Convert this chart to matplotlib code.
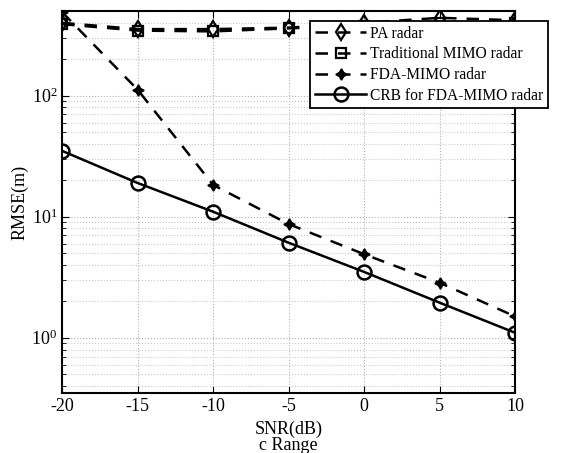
import matplotlib
matplotlib.use("Agg")
import matplotlib.pyplot as plt
from matplotlib.ticker import LogLocator, NullFormatter

plt.rcParams['font.family'] = ['Liberation Serif', 'DejaVu Serif']
plt.rcParams['mathtext.fontset'] = 'custom'
plt.rcParams['mathtext.rm'] = 'Liberation Serif'
plt.rcParams['mathtext.it'] = 'Liberation Serif:italic'
plt.rcParams['axes.unicode_minus'] = False

snr = [-20, -15, -10, -5, 0, 5, 10]
pa_radar = [400, 355, 355, 365, 400, 440, 420]
trad_mimo = [390, 345, 340, 360, 380, 400, 400]
fda_mimo = [490, 112, 18.3, 8.7, 4.9, 2.85, 1.5]
crb_fda = [35, 19, 11, 6.1, 3.5, 1.95, 1.1]

fig = plt.figure(figsize=(5.65, 4.53), dpi=100)
ax = fig.add_axes([0.110, 0.1325, 0.8018, 0.843])

lw = 1.8
ax.semilogy(snr, pa_radar, '--', color='black', lw=lw, marker='d', ms=8,
            mfc='none', mew=1.6, dashes=(5, 4), label='PA radar')
ax.semilogy(snr, trad_mimo, '--', color='black', lw=lw, marker='s', ms=7,
            mfc='none', mew=1.6, dashes=(5, 4), label='Traditional MIMO radar')
ax.semilogy(snr, fda_mimo, '--', color='black', lw=lw, marker=(4, 1, 0), ms=8,
            mfc='black', mew=1.2, dashes=(5, 4), label='FDA-MIMO radar')
ax.semilogy(snr, crb_fda, '-', color='black', lw=lw, marker='o', ms=10,
            mfc='none', mew=1.8, label='CRB for FDA-MIMO radar')

ax.set_xlim(-20, 10)
ax.set_ylim(0.35, 500)
ax.set_xticks([-20, -15, -10, -5, 0, 5, 10])
ax.yaxis.set_major_locator(LogLocator(base=10, numticks=10))
ax.yaxis.set_minor_locator(LogLocator(base=10, subs=range(2, 10), numticks=20))
ax.yaxis.set_minor_formatter(NullFormatter())

ax.grid(True, which='major', linestyle=':', color='#b0b0b0', lw=0.8)
ax.grid(True, which='minor', axis='y', linestyle=':', color='#c8c8c8', lw=0.8)

ax.tick_params(which='both', direction='in', top=True, right=True, labelsize=13)
ax.tick_params(which='major', length=5)
ax.tick_params(which='minor', length=3)
for s in ax.spines.values():
    s.set_linewidth(1.5)

ax.set_xlabel('SNR(dB)\nc Range', fontsize=13, linespacing=0.95, labelpad=4)
ax.set_ylabel('RMSE(m)', fontsize=13, labelpad=2)

leg = ax.legend(loc='upper right', bbox_to_anchor=(548/565, 1 - 21/453),
                bbox_transform=fig.transFigure, fontsize=11.2, frameon=True,
                fancybox=False, edgecolor='black', framealpha=1,
                handlelength=3.3, borderpad=0.3, labelspacing=0.3,
                handletextpad=0.25, borderaxespad=0)
leg.get_frame().set_linewidth(1.3)

fig.savefig('out.png', dpi=100)
